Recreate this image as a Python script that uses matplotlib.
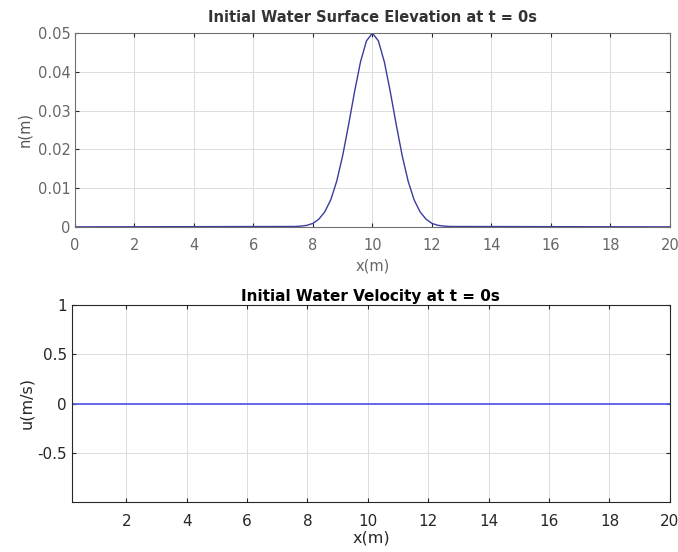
import numpy as np
import matplotlib
matplotlib.use('Agg')
import matplotlib.pyplot as plt

plt.rcParams['font.family'] = ['DejaVu Sans']

# initial surface elevation
eta_x = [0.0, 7.4, 7.6, 7.8, 8.0, 8.2, 8.4, 8.6, 8.8, 9.0, 9.2, 9.4, 9.6, 9.8,
         10.0, 10.2, 10.4, 10.6, 10.8, 11.0, 11.2, 11.4, 11.6, 11.8, 12.0,
         12.2, 12.4, 12.6, 20.0]
eta = [0.0, 0.0001, 0.0002, 0.0004, 0.0009, 0.0020, 0.0039, 0.0070, 0.0118,
       0.0184, 0.0264, 0.0349, 0.0426, 0.0480, 0.0500, 0.0480, 0.0426,
       0.0349, 0.0264, 0.0184, 0.0118, 0.0070, 0.0039, 0.0020, 0.0009,
       0.0004, 0.0002, 0.0001, 0.0]

# initial velocity (flat zero)
u_x = [0.2, 20.0]
u = [0.0, 0.0]

eta_xticks = [0, 2, 4, 6, 8, 10, 12, 14, 16, 18, 20]
eta_yticks = [0, 0.01, 0.02, 0.03, 0.04, 0.05]
u_xticks = [2, 4, 6, 8, 10, 12, 14, 16, 18, 20]
u_yticks = [-0.5, 0, 0.5, 1]


def style(ax, spine_col):
    ax.grid(True, color='#dcdcdc', linewidth=0.7)
    ax.set_axisbelow(True)
    ax.tick_params(direction='in', top=True, right=True, length=3,
                   colors='#262626')
    for s in ax.spines.values():
        s.set_color(spine_col)
        s.set_linewidth(0.8)


fig = plt.figure(figsize=(6.78, 5.52), dpi=100)

ax1 = fig.add_axes([0.1106, 0.589, 0.8774, 0.351])
ax1.plot(eta_x, eta, color='#3b3b9e', linewidth=1.0)
ax1.set_xlim(0, 20)
ax1.set_ylim(0, 0.05)
ax1.set_xticks(eta_xticks)
ax1.set_yticks(eta_yticks)
ax1.set_yticklabels(['0', '0.01', '0.02', '0.03', '0.04', '0.05'])
style(ax1, '#707070')
ax1.tick_params(labelsize=10.5, labelcolor='#666666')
ax1.tick_params(axis='x', pad=8)
ax1.tick_params(axis='y', pad=3)
ax1.set_xlabel('x(m)', fontsize=10.5, color='#666666', labelpad=4)
ax1.set_ylabel('n(m)', fontsize=10.5, color='#555555', labelpad=4)
ax1.set_title('Initial Water Surface Elevation at t = 0s', fontsize=10.5,
              fontweight='bold', pad=8, color='#333333')

ax2 = fig.add_axes([0.106, 0.0906, 0.882, 0.3569])
ax2.plot(u_x, u, color='#5050ee', linewidth=1.2)
ax2.set_xlim(0.2, 20)
ax2.set_ylim(-0.99, 1)
ax2.set_xticks(u_xticks)
ax2.set_yticks(u_yticks)
ax2.set_yticklabels(['-0.5', '0', '0.5', '1'])
style(ax2, '#262626')
ax2.tick_params(labelsize=11, labelcolor='#262626')
ax2.tick_params(axis='x', pad=9)
ax2.set_xlabel('x(m)', fontsize=11.5, color='#262626', labelpad=1)
ax2.set_ylabel('u(m/s)', fontsize=11.5, color='#262626', labelpad=2)
ax2.set_title('Initial Water Velocity at t = 0s', fontsize=11,
              fontweight='bold', pad=3, color='#000000')

fig.savefig('out.png', dpi=100)
